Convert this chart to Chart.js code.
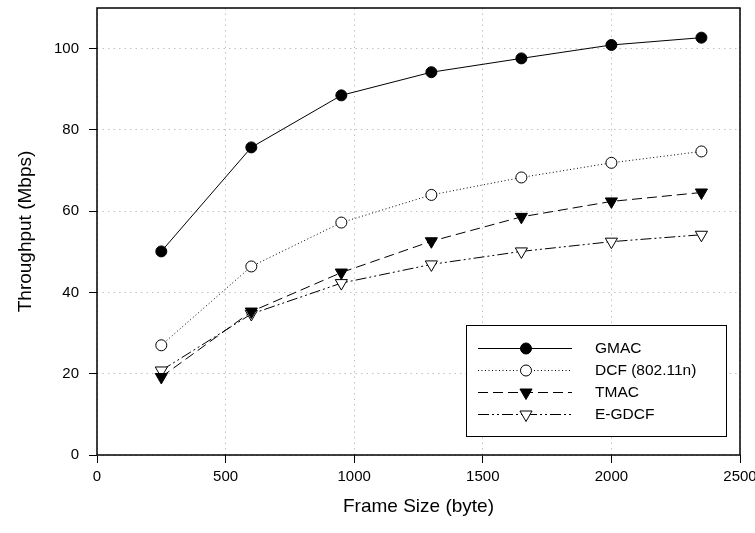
<!DOCTYPE html>
<html>
<head>
<meta charset="utf-8">
<script src="https://cdn.jsdelivr.net/npm/chart.js@4/dist/chart.umd.min.js"></script>
<style>
  html, body { margin: 0; padding: 0; background: #fff; }
  #wrap { width: 755px; height: 533px; }
</style>
</head>
<body>
<div id="wrap"><canvas id="c" width="755" height="533"></canvas></div>
<script>
const frameSizes = [250, 600, 950, 1300, 1650, 2000, 2350];
const gmac  = [50.1, 75.7, 88.5, 94.2, 97.6, 100.9, 102.7];
const dcf   = [27.0, 46.4, 57.2, 64.0, 68.3, 71.9, 74.7];
const tmac  = [19.2, 35.3, 44.9, 52.6, 58.6, 62.4, 64.6];
const egdcf = [20.8, 34.7, 42.3, 46.9, 50.1, 52.5, 54.2];
const seriesNames = ['GMAC', 'DCF (802.11n)', 'TMAC', 'E-GDCF'];
const xTicks = [0, 500, 1000, 1500, 2000, 2500];
const yTicks = [0, 20, 40, 60, 80, 100];

const FONT = "'Liberation Sans', Arial, Helvetica, sans-serif";

function pts(vals) { return frameSizes.map((x, i) => ({ x: x, y: vals[i] })); }

const styles = [
  { dash: [], style: 'circle', fill: '#000', radius: 5.5, rot: 0 },
  { dash: [1, 2.5], style: 'circle', fill: '#fff', radius: 5.5, rot: 0 },
  { dash: [10, 5], style: 'triangle', fill: '#000', radius: 7, rot: 180 },
  { dash: [11, 3, 2, 3, 2, 3], style: 'triangle', fill: '#fff', radius: 7, rot: 180 }
];
const allVals = [gmac, dcf, tmac, egdcf];

const datasets = allVals.map((v, i) => ({
  label: seriesNames[i],
  data: pts(v),
  showLine: true,
  borderColor: '#000',
  borderWidth: 1,
  borderDash: styles[i].dash,
  pointStyle: styles[i].style,
  pointRotation: styles[i].rot,
  pointRadius: styles[i].radius,
  pointHoverRadius: styles[i].radius,
  pointBackgroundColor: styles[i].fill,
  pointBorderColor: '#000',
  pointBorderWidth: 1,
  tension: 0
}));

function drawMarker(ctx, s, x, y) {
  ctx.save();
  ctx.setLineDash([]);
  ctx.lineWidth = 1;
  ctx.strokeStyle = '#000';
  ctx.fillStyle = s.fill;
  ctx.beginPath();
  if (s.style === 'circle') {
    ctx.arc(x, y, s.radius, 0, Math.PI * 2);
  } else {
    const r = s.radius;
    let a = s.rot * Math.PI / 180;
    ctx.moveTo(x + Math.sin(a) * r, y - Math.cos(a) * r);
    a += 2 * Math.PI / 3;
    ctx.lineTo(x + Math.sin(a) * r, y - Math.cos(a) * r);
    a += 2 * Math.PI / 3;
    ctx.lineTo(x + Math.sin(a) * r, y - Math.cos(a) * r);
    ctx.closePath();
  }
  ctx.fill();
  ctx.stroke();
  ctx.restore();
}

const framePlugin = {
  id: 'framePlugin',
  afterDatasetsDraw(chart) {
    const ctx = chart.ctx;
    const a = chart.chartArea;
    ctx.save();
    ctx.setLineDash([]);
    ctx.strokeStyle = '#000';
    ctx.lineWidth = 1.5;
    ctx.strokeRect(a.left, a.top, a.right - a.left, a.bottom - a.top);
    ctx.restore();

    // legend box
    const bx = a.right - 274, by = a.bottom - 130, bw = 260, bh = 111;
    ctx.save();
    ctx.fillStyle = '#fff';
    ctx.fillRect(bx, by, bw, bh);
    ctx.strokeStyle = '#000';
    ctx.lineWidth = 1;
    ctx.strokeRect(bx + 0.5, by + 0.5, bw, bh);
    const rowY = [23, 45, 67, 89];
    seriesNames.forEach((name, i) => {
      const y = by + rowY[i];
      const s = styles[i];
      ctx.save();
      ctx.strokeStyle = '#000';
      ctx.lineWidth = 1;
      ctx.setLineDash(s.dash);
      ctx.beginPath();
      ctx.moveTo(bx + 12, y + 0.5);
      ctx.lineTo(bx + 106, y + 0.5);
      ctx.stroke();
      ctx.restore();
      drawMarker(ctx, s, bx + 60, y + 0.5);
      ctx.fillStyle = '#000';
      ctx.font = '15.5px ' + FONT;
      ctx.textBaseline = 'middle';
      ctx.textAlign = 'left';
      ctx.fillText(name, bx + 129, y + 1);
    });
    ctx.restore();
  }
};

new Chart(document.getElementById('c'), {
  type: 'scatter',
  data: { datasets: datasets },
  plugins: [framePlugin],
  options: {
    responsive: false,
    animation: false,
    devicePixelRatio: 1,
    layout: { padding: { left: 0, right: 15, top: 7, bottom: 0 } },
    plugins: { legend: { display: false }, tooltip: { enabled: false } },
    scales: {
      x: {
        type: 'linear',
        min: 0, max: 2500,
        afterBuildTicks: (sc) => { sc.ticks = xTicks.map(v => ({ value: v })); },
        afterFit: (sc) => { sc.height = 78; sc.paddingLeft = 0; sc.paddingRight = 0; },
        ticks: { color: '#000', font: { family: FONT, size: 15 }, padding: 5, maxRotation: 0, callback: (v) => String(v) },
        grid: { color: '#c2c2c2', lineWidth: 1, tickLength: 8, tickColor: '#000', tickWidth: 1 },
        border: { display: false, dash: [1.5, 4] },
        title: { display: true, text: 'Frame Size (byte)', color: '#000', font: { family: FONT, size: 19 }, padding: { top: 0, bottom: 15 } }
      },
      y: {
        type: 'linear',
        min: 0, max: 110,
        afterBuildTicks: (sc) => { sc.ticks = yTicks.map(v => ({ value: v })); },
        afterFit: (sc) => { sc.width = 97; sc.paddingTop = 0; sc.paddingBottom = 0; },
        ticks: { color: '#000', font: { family: FONT, size: 15 }, padding: 10, callback: (v) => String(v) },
        grid: { color: '#c2c2c2', lineWidth: 1, tickLength: 8, tickColor: '#000', tickWidth: 1 },
        border: { display: false, dash: [1.5, 4] },
        title: { display: true, text: 'Throughput (Mbps)', color: '#000', font: { family: FONT, size: 19 }, padding: { top: 14, bottom: 0 } }
      }
    }
  }
});
</script>
</body>
</html>
